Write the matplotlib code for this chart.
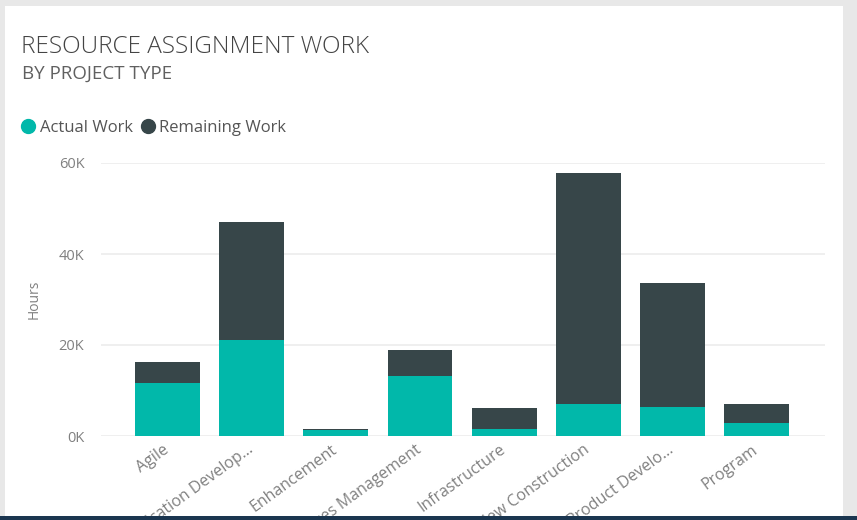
import matplotlib
matplotlib.use("Agg")
import matplotlib.pyplot as plt
from matplotlib.patches import Rectangle
from matplotlib.lines import Line2D
from matplotlib.transforms import ScaledTranslation
import numpy as np

plt.rcParams['font.family'] = ['Open Sans', 'DejaVu Sans']

categories = ["Agile", "Application Develop...", "Enhancement", "Services Management",
              "Infrastructure", "New Construction", "Product Develo...", "Program"]
actual_work = [11600, 21000, 1250, 13100, 1600, 7100, 6400, 2900]
remaining_work = [4700, 26000, 350, 5900, 4600, 50700, 27300, 4100]
y_ticks = [0, 20000, 40000, 60000]
y_tick_labels = ["0K", "20K", "40K", "60K"]

TEAL = "#01B8AA"
DARK = "#374649"
W, H = 857, 520

fig = plt.figure(figsize=(W / 100, H / 100), dpi=100)
fig.patch.set_facecolor("#e8e8e8")

# white card
fig.patches.append(Rectangle((5 / W, 4 / H), (843 - 5) / W, (514 - 4) / H,
                             transform=fig.transFigure, facecolor="white",
                             edgecolor="none", zorder=-10))

ax = fig.add_axes([101 / W, (H - 436) / H, (825 - 101) / W, (436 - 163) / H])
ax.set_facecolor("none")

x = np.arange(len(categories))
ax.bar(x, actual_work, width=0.77, color=TEAL, label="Actual Work", zorder=3)
ax.bar(x, remaining_work, width=0.77, bottom=actual_work, color=DARK,
       label="Remaining Work", zorder=3)

ax.set_xlim(-0.79, len(categories) - 1 + 0.81)
ax.set_ylim(0, 60000)
ax.set_yticks(y_ticks)
ax.set_yticklabels(y_tick_labels)
ax.yaxis.grid(True, color="#ececec", linewidth=1.2, zorder=0)
ax.set_axisbelow(True)
for s in ax.spines.values():
    s.set_visible(False)
ax.tick_params(axis="both", length=0, colors="#808080", labelsize=10.5)
ax.tick_params(axis="y", pad=12)
ax.set_xticks(x)
ax.set_xticklabels(categories, rotation=36, ha="right", rotation_mode="anchor",
                   color="#808080", fontsize=11.5)
ax.tick_params(axis="x", pad=4)
offset = ScaledTranslation(-5 / 100, 0, fig.dpi_scale_trans)
for lbl in ax.get_xticklabels():
    lbl.set_transform(lbl.get_transform() + offset)

ax.set_ylabel("Hours", color="#808080", fontsize=10)
ax.yaxis.set_label_coords((42 - 101) / (825 - 101), 0.5)

fig.text(21 / W, 1 - 47 / H, "RESOURCE ASSIGNMENT WORK", fontsize=17.5,
         color="#444444", va="center", ha="left", fontweight="light")
fig.text(22 / W, 1 - 74 / H, "BY PROJECT TYPE", fontsize=13.5,
         color="#606060", va="center", ha="left", fontweight="medium")

handles = [Line2D([], [], marker="o", linestyle="none", markersize=10,
                  markerfacecolor=TEAL, markeredgecolor=TEAL),
           Line2D([], [], marker="o", linestyle="none", markersize=10,
                  markerfacecolor=DARK, markeredgecolor=DARK)]
leg = fig.legend(handles, ["Actual Work", "Remaining Work"], loc="center left",
                 bbox_to_anchor=(17 / W, 1 - 128 / H), ncol=2, frameon=False,
                 handletextpad=0.05, columnspacing=0.25, handlelength=1.3,
                 borderpad=0, borderaxespad=0, fontsize=12)
for t in leg.get_texts():
    t.set_color("#555555")

# bottom dark strip (clips long tick labels)
fig.patches.append(Rectangle((0, 0), 1, 4 / H, transform=fig.transFigure,
                             facecolor="#1b3650", edgecolor="none", zorder=50))

fig.savefig("out.png", dpi=100, facecolor=fig.get_facecolor())
